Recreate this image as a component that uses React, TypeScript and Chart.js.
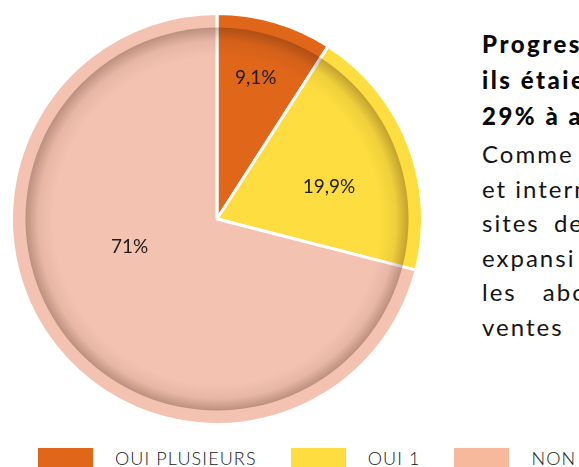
import React, { useEffect, useRef } from "react";
import { Chart, registerables } from "chart.js";

Chart.register(...registerables);

// ---- data ----
const categories = ["OUI PLUSIEURS", "OUI 1", "NON"];
const values = [9.1, 19.9, 71];
const valueLabels = ["9,1%", "19,9%", "71%"];

// ---- side text (as visible in the reference) ----
const boldLines = ["Progres", "ils étaie", "29% à a"];
const regularLines = ["Comme", "et intern", "sites de", "expansi", "les abo", "ventes"];

// ---- styles ----
const sliceColors = ["#E0661A", "#FDDD3F", "#F4C2B1"];
const legendColors = ["#E0661A", "#FDDD3F", "#F6B99C"];
const labelRadiusFrac = [0.71, 0.567, 0.446];
const labelAngleNudgeDeg = [-1, 5.4, 20.2];
const regularWordSpacing = [0, 0, 6, 0, 18, 0];
const FONT = "Lato, 'Open Sans', sans-serif";

const shadePlugin = {
  id: "innerShade",
  afterDatasetsDraw(chart: any) {
    const meta = chart.getDatasetMeta(0);
    const arc = meta.data[0];
    if (!arc) return;
    const { x, y, outerRadius } = arc.getProps(["x", "y", "outerRadius"], true);
    const ctx = chart.ctx as CanvasRenderingContext2D;
    const rIn = outerRadius - 14;
    ctx.save();
    ctx.beginPath();
    ctx.arc(x, y, rIn, 0, Math.PI * 2);
    ctx.clip();
    const g = ctx.createRadialGradient(x, y + 2, rIn - 28, x, y, rIn);
    g.addColorStop(0, "rgba(60,25,10,0)");
    g.addColorStop(0.55, "rgba(60,25,10,0.07)");
    g.addColorStop(1, "rgba(60,25,10,0.30)");
    ctx.fillStyle = g;
    ctx.fillRect(x - rIn - 2, y - rIn - 2, 2 * rIn + 4, 2 * rIn + 4);
    ctx.restore();
  },
};

const labelPlugin = {
  id: "sliceLabels",
  afterDraw(chart: any) {
    const meta = chart.getDatasetMeta(0);
    const ctx = chart.ctx as CanvasRenderingContext2D;
    ctx.save();
    ctx.font = `19px ${FONT}`;
    ctx.fillStyle = "#1d1d1d";
    ctx.textAlign = "center";
    ctx.textBaseline = "middle";
    meta.data.forEach((arc: any, i: number) => {
      const p = arc.getProps(["x", "y", "startAngle", "endAngle", "outerRadius"], true);
      const mid = (p.startAngle + p.endAngle) / 2 + (labelAngleNudgeDeg[i] * Math.PI) / 180;
      const r = p.outerRadius * labelRadiusFrac[i];
      ctx.fillText(valueLabels[i], p.x + Math.cos(mid) * r, p.y + Math.sin(mid) * r);
    });
    ctx.restore();
  },
};

export default function App() {
  const canvasRef = useRef<HTMLCanvasElement | null>(null);

  useEffect(() => {
    if (!canvasRef.current) return;
    const chart = new Chart(canvasRef.current, {
      type: "pie",
      data: {
        labels: categories,
        datasets: [
          {
            data: values,
            backgroundColor: sliceColors,
            borderColor: "#ffffff",
            borderWidth: 3,
          },
        ],
      },
      options: {
        responsive: false,
        animation: false,
        events: [],
        layout: { padding: { left: 10, right: 10, top: 12, bottom: 12 } },
        plugins: {
          legend: { display: false },
          tooltip: { enabled: false },
        },
      },
      plugins: [shadePlugin, labelPlugin],
    });
    return () => chart.destroy();
  }, []);

  return (
    <div
      style={{
        position: "fixed",
        left: 0,
        top: 0,
        width: 579,
        height: 467,
        overflow: "hidden",
        background: "#fff",
        fontFamily: FONT,
      }}
    >
      <canvas
        ref={canvasRef}
        width={434}
        height={438}
        style={{ position: "absolute", left: 0, top: 0, width: 434, height: 438 }}
      />
      <div
        style={{
          position: "absolute",
          left: 482,
          top: 26,
          fontSize: 24,
          lineHeight: "36px",
          fontWeight: 900,
          letterSpacing: 2.5,
          color: "#0a0a0a",
          whiteSpace: "pre",
        }}
      >
        {boldLines.map((t, i) => (
          <div key={i}>{t}</div>
        ))}
      </div>
      <div
        style={{
          position: "absolute",
          left: 482,
          top: 137,
          fontSize: 24,
          lineHeight: "34.5px",
          fontWeight: 400,
          letterSpacing: 2,
          color: "#151515",
          whiteSpace: "pre",
        }}
      >
        {regularLines.map((t, i) => (
          <div key={i} style={{ wordSpacing: regularWordSpacing[i] }}>
            {t}
          </div>
        ))}
      </div>
      <div
        style={{
          position: "absolute",
          left: 38,
          top: 448,
          display: "flex",
          alignItems: "center",
          whiteSpace: "nowrap",
        }}
      >
        {categories.map((c, i) => (
          <div key={c} style={{ display: "flex", alignItems: "center", marginRight: 34 }}>
            <div style={{ width: 55, height: 20, background: legendColors[i] }} />
            <div
              style={{
                marginLeft: 22,
                fontSize: 18,
                lineHeight: "20px",
                fontWeight: 300,
                color: "#161616",
                letterSpacing: 1.1,
              }}
            >
              {c}
            </div>
          </div>
        ))}
      </div>
    </div>
  );
}
